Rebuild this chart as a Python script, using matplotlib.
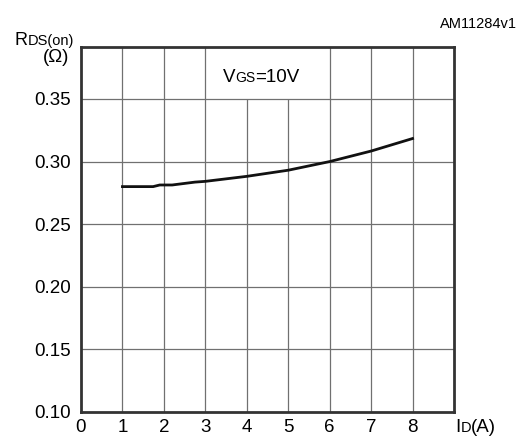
import matplotlib.pyplot as plt

plt.rcParams['font.family'] = ['Liberation Sans', 'DejaVu Sans']

# curve
id_a = [1.0, 1.74, 1.9, 2.2, 2.75, 3.0, 4.0, 5.0, 6.0, 7.0, 8.0]
rds_on = [0.280, 0.280, 0.2813, 0.2813, 0.2836, 0.2842, 0.2882, 0.2931, 0.300, 0.3084, 0.3184]

x_ticks = [0, 1, 2, 3, 4, 5, 6, 7, 8]
y_ticks = [0.10, 0.15, 0.20, 0.25, 0.30, 0.35]
y_labels = ['0.10', '0.15', '0.20', '0.25', '0.30', '0.35']

W, H = 528, 437
fig = plt.figure(figsize=(W / 100, H / 100), dpi=100)
ax = fig.add_axes([81 / W, 1 - 412 / H, (454 - 81) / W, (412 - 47) / H])
ax.set_xlim(0, 9)
ax.set_ylim(0.10, 0.3915)

grid_c = '#707070'
# vertical grid, x=4 and x=5 stop at 0.35 to leave room for the label
for xv in x_ticks[1:]:
    top = 0.35 if xv in (4, 5) else 0.3915
    ax.vlines(xv, 0.10, top, color=grid_c, lw=0.9, zorder=1)
for yv in y_ticks[1:]:
    ax.hlines(yv, 0, 9, color=grid_c, lw=0.9, zorder=1)

ax.plot(id_a, rds_on, color='#111111', lw=2.0, zorder=3)

for s in ax.spines.values():
    s.set_linewidth(2.0)
    s.set_color('#333333')

ax.set_xticks(x_ticks)
ax.set_yticks(y_ticks)
ax.set_yticklabels(y_labels)
ax.tick_params(length=0, labelsize=13.5)
ax.tick_params(axis='x', pad=5)
ax.tick_params(axis='y', pad=7)


def chain(px, py, parts):
    # texts side by side on one baseline, px/py in pixels from top-left
    renderer = fig.canvas.get_renderer()
    x = px
    for s, size in parts:
        t = fig.text(x / W, 1 - py / H, s, fontsize=size, ha='left', va='baseline')
        x = t.get_window_extent(renderer).x1


chain(15, 45, [('R', 13), ('DS(on)', 10.5)])
fig.text(56 / W, 1 - 58 / H, '(Ω)', ha='center', va='center', fontsize=13.5)
chain(223, 82, [('V', 13.5), ('GS', 10), ('=10V', 13.5)])
chain(455, 432, [('I', 13.5), ('D', 10.5), ('(A)', 13.5)])
fig.text(517 / W, 1 - 24 / H, 'AM11284v1', ha='right', va='center', fontsize=10.5)

fig.savefig('out.png', dpi=100)
